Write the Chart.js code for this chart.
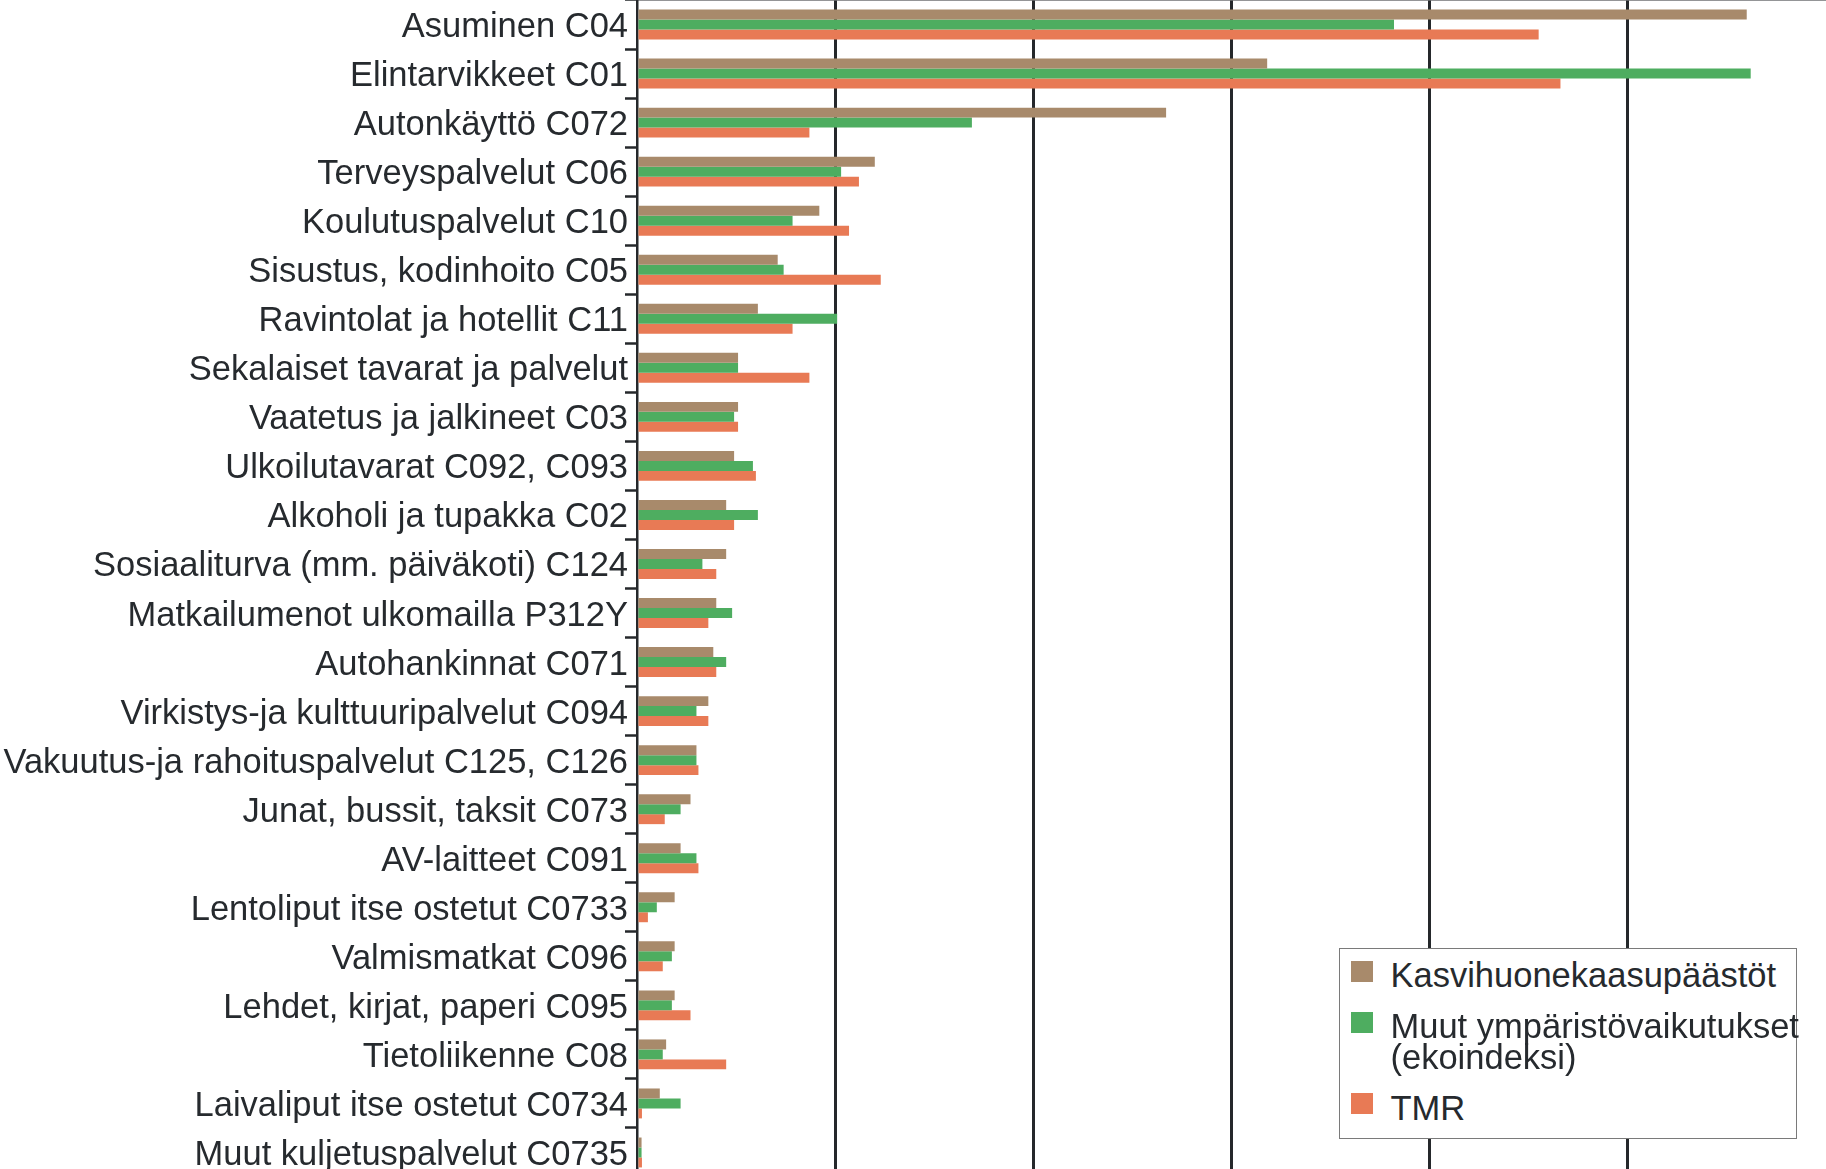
<!DOCTYPE html>
<html>
<head>
<meta charset="utf-8">
<script src="https://cdn.jsdelivr.net/npm/chart.js@4.4.1/dist/chart.umd.min.js"></script>
<style>
html,body{margin:0;padding:0;background:#fff;overflow:hidden;width:1826px;height:1169px;}
#c{position:absolute;left:0;top:0;}
#legend{position:absolute;left:1339px;top:948px;width:458px;height:191px;border:1.5px solid #7a7a7a;background:#fff;box-sizing:border-box;font-family:'Liberation Sans',Arial,sans-serif;font-size:34.5px;color:#262a2e;}
#legend .sw{position:absolute;left:10.5px;width:22px;height:21px;}
#legend .tx{position:absolute;left:50.5px;line-height:31px;white-space:nowrap;}
</style>
</head>
<body>
<canvas id="c" width="1826" height="1177"></canvas>
<div id="legend"></div>
<script>
// ---- data ----
const categories = [
  'Asuminen C04',
  'Elintarvikkeet C01',
  'Autonkäyttö C072',
  'Terveyspalvelut C06',
  'Koulutuspalvelut C10',
  'Sisustus, kodinhoito C05',
  'Ravintolat ja hotellit C11',
  'Sekalaiset tavarat ja palvelut',
  'Vaatetus ja jalkineet C03',
  'Ulkoilutavarat C092, C093',
  'Alkoholi ja tupakka C02',
  'Sosiaaliturva (mm. päiväkoti) C124',
  'Matkailumenot ulkomailla P312Y',
  'Autohankinnat C071',
  'Virkistys-ja kulttuuripalvelut C094',
  'Vakuutus-ja rahoituspalvelut C125, C126',
  'Junat, bussit, taksit C073',
  'AV-laitteet C091',
  'Lentoliput itse ostetut C0733',
  'Valmismatkat C096',
  'Lehdet, kirjat, paperi C095',
  'Tietoliikenne C08',
  'Laivaliput itse ostetut C0734',
  'Muut kuljetuspalvelut C0735'
];
const seriesNames = ['Kasvihuonekaasupäästöt', 'Muut ympäristövaikutukset (ekoindeksi)', 'TMR'];
const ghg = [5.60, 3.18, 2.67, 1.20, 0.92, 0.71, 0.61, 0.51, 0.51, 0.49, 0.45, 0.45, 0.40, 0.385, 0.36, 0.30, 0.27, 0.22, 0.19, 0.19, 0.19, 0.147, 0.115, 0.023];
const eco = [3.82, 5.62, 1.69, 1.03, 0.785, 0.74, 1.01, 0.51, 0.49, 0.585, 0.61, 0.33, 0.48, 0.45, 0.30, 0.30, 0.22, 0.30, 0.10, 0.176, 0.176, 0.13, 0.22, 0.023];
const tmr = [4.55, 4.66, 0.87, 1.12, 1.07, 1.23, 0.785, 0.87, 0.51, 0.60, 0.49, 0.40, 0.36, 0.40, 0.36, 0.31, 0.14, 0.31, 0.055, 0.13, 0.27, 0.45, 0.025, 0.025];
const xMin = 0, xMax = 6, xStep = 1;

// ---- styles ----
const colors = ['#a88a6b', '#4ead60', '#e87a55'];
const seriesData = [ghg, eco, tmr];
const FONT = "'Liberation Sans', Arial, sans-serif";
const INK = '#262a2e';
const GRID = '#25282b';

const chart = new Chart(document.getElementById('c'), {
  type: 'bar',
  data: {
    labels: categories,
    datasets: seriesNames.map((n, i) => ({
      label: n, data: seriesData[i], backgroundColor: colors[i], borderWidth: 0
    }))
  },
  options: {
    indexAxis: 'y',
    responsive: false,
    animation: false,
    devicePixelRatio: 1,
    layout: { padding: 0 },
    datasets: { bar: { categoryPercentage: 0.61, barPercentage: 1.0 } },
    plugins: { legend: { display: false }, tooltip: { enabled: false } },
    scales: {
      x: {
        position: 'top',
        min: xMin, max: xMax,
        ticks: { display: false, stepSize: xStep },
        grid: {
          color: c => (c.tick && (c.tick.value === xMin || c.tick.value === xMax)) ? 'rgba(0,0,0,0)' : GRID,
          lineWidth: 3, drawTicks: false
        },
        border: { display: true, color: '#2a2d30', width: 1.5 },
        afterFit: s => { s.height = 0; s.paddingLeft = 0; s.paddingRight = 0; }
      },
      y: {
        ticks: { font: { family: FONT, size: 34.5 }, color: INK, padding: -3, labelOffset: 3, autoSkip: false },
        grid: { offset: true, drawOnChartArea: false, tickLength: 12, tickWidth: 2.5, tickColor: GRID },
        border: { display: true, color: GRID, width: 2.5 },
        afterFit: s => { s.width = 637; s.paddingTop = 0; s.paddingBottom = 0; }
      }
    }
  }
});

// ---- legend (inside plot, bottom right) ----
const lg = document.getElementById('legend');
const swTops = [11.5, 62.5, 143.5];
const txTops = [11, 62, 144];
seriesNames.forEach((n, i) => {
  const sw = document.createElement('div');
  sw.className = 'sw'; sw.style.top = swTops[i] + 'px'; sw.style.background = colors[i];
  lg.appendChild(sw);
  const tx = document.createElement('div');
  tx.className = 'tx'; tx.style.top = txTops[i] + 'px';
  const parts = n.split(' (');
  tx.innerHTML = parts.length > 1 ? parts[0] + '<br>(' + parts[1] : n;
  lg.appendChild(tx);
});
</script>
</body>
</html>
